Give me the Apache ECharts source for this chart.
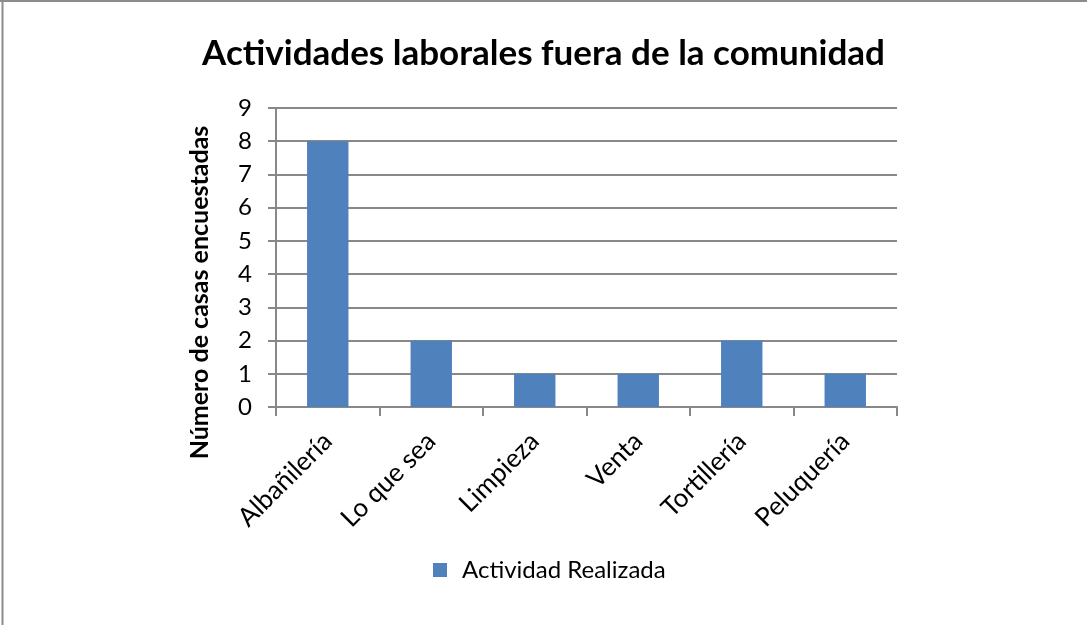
<!DOCTYPE html>
<html>
<head>
<meta charset="utf-8">
<script src="https://cdn.jsdelivr.net/npm/echarts@6/dist/echarts.min.js"></script>
<style>
html,body{margin:0;padding:0;background:#fff;}
#c{width:1087px;height:625px;}
</style>
</head>
<body>
<div id="c"></div>
<script>
const categories = ['Albañilería','Lo que sea','Limpieza','Venta','Tortillería','Peluquería'];
const values = [8,2,1,1,2,1];
const seriesName = 'Actividad Realizada';
const titleText = 'Actividades laborales fuera de la comunidad';
const yAxisName = 'Número de casas encuestadas';

const chart = echarts.init(document.getElementById('c'), null, {renderer:'canvas'});
const FONT = 'Lato, "Open Sans", sans-serif';
const GRAY = '#888888';
chart.setOption({
  animation:false,
  backgroundColor:'#fff',
  title:{
    text:titleText, left:'center', top:31,
    textStyle:{fontFamily:FONT, fontWeight:'bold', fontSize:35, color:'#000'}
  },
  legend:{
    data:[seriesName], left:428, top:553, itemWidth:14, itemHeight:14, itemGap:10,
    icon:'rect',
    textStyle:{fontFamily:FONT, fontSize:24, color:'#000', padding:[0,0,0,10]}
  },
  grid:{left:276, right:190, top:108, bottom:218, containLabel:false},
  xAxis:{
    type:'category', data:categories,
    axisLine:{lineStyle:{color:GRAY, width:2}},
    axisTick:{show:true, length:9, alignWithLabel:false, lineStyle:{color:GRAY, width:2}},
    axisLabel:{rotate:45, fontFamily:FONT, fontSize:26, color:'#000', margin:30, interval:0}
  },
  yAxis:{
    type:'value', min:0, max:9, interval:1,
    name:yAxisName, nameLocation:'middle', nameGap:64,
    nameTextStyle:{fontFamily:FONT, fontWeight:'bold', fontSize:25, color:'#000', padding:[0,70,0,0]},
    axisLine:{show:true, lineStyle:{color:GRAY, width:2}},
    axisTick:{show:true, length:8, lineStyle:{color:GRAY, width:2}},
    axisLabel:{fontFamily:FONT, fontSize:24, color:'#000', margin:24},
    splitLine:{lineStyle:{color:GRAY, width:2}}
  },
  series:[{
    name:seriesName, type:'bar', data:values, barWidth:'40%',
    itemStyle:{color:'#4f81bd'}
  }],
  graphic:[
    {type:'line', shape:{x1:2.5,y1:0,x2:2.5,y2:625}, style:{stroke:'#8c8c8c', lineWidth:2}},
    {type:'line', shape:{x1:0,y1:1,x2:1087,y2:1}, style:{stroke:'#8c8c8c', lineWidth:2}}
  ]
});
</script>
</body>
</html>
